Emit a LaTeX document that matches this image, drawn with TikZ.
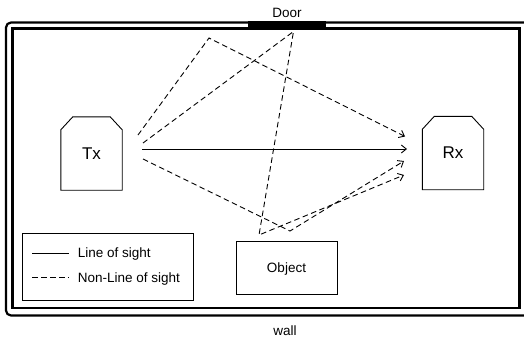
\documentclass[tikz,border=0pt]{standalone}
\usepackage{fontspec}
\setmainfont{Liberation Sans}
\usetikzlibrary{arrows.meta,calc}
\begin{document}
\begin{tikzpicture}[x=1pt,y=-1pt,
  thinline/.style={line width=0.9pt},
  nlos/.style={thinline, dash pattern=on 5.5pt off 3.5pt},
  tip/.style={-{Straight Barb[length=5pt,width=8pt,line width=0.9pt]}},
  lbl/.style={font=\fontsize{13.5}{16}\selectfont, inner sep=0pt},
  big/.style={font=\fontsize{17}{20}\selectfont, inner sep=0pt},
  device/.style={big, minimum width=61pt, minimum height=73pt, inner sep=0pt},
  boxed/.style={draw, thinline}
]
\useasboundingbox (0,0) rectangle (524,340);
\clip (0,0) rectangle (524,340);

% walls
\draw[line width=2.2pt, rounded corners=5pt] (6,22.5) rectangle (532,315.5);
\draw[line width=2.8pt] (12.5,28.5) rectangle (519.5,308);
% door
\fill (248,21) rectangle (326,30);
\node[lbl, anchor=base] (doorlbl) at (287,17.3) {Door};
\node[lbl, anchor=base] (walllbl) at (285,335) {wall};

% devices
\node[device] (tx) at (91.5,153.5) {Tx};
\node[device] (rx) at (453,153) {Rx};
\foreach \d in {tx,rx}{
  \draw[thinline] (\d.south west) -- ([yshift=-13pt]\d.north west)
    -- ([xshift=12pt]\d.north west) -- ([xshift=-12pt]\d.north east)
    -- ([yshift=-13pt]\d.north east) -- (\d.south east) -- cycle;
}

% object
\node[boxed, lbl, text depth=0pt, minimum width=101pt, minimum height=53pt] (obj) at (286.5,267.5) {Object};

% legend
\node[boxed, minimum width=171pt, minimum height=67pt] (legend) at (107.5,266.5) {};
\coordinate (la) at (32,253);
\coordinate (lb) at (69,253);
\coordinate (lc) at (32,277);
\coordinate (ld) at (69,277);
\draw[thinline] (la) -- (lb);
\draw[nlos] (lc) -- (ld);
\node[lbl, anchor=base west] (loslbl) at (77.7,257.3) {Line of sight};
\node[lbl, anchor=base west] (nloslbl) at (77.7,282) {Non-Line of sight};

% ray points
\coordinate (t0) at (142,149);  \coordinate (e0) at (407,149);
\coordinate (t1) at (138,135);  \coordinate (r1) at (209,38);   \coordinate (e1) at (405,136.5);
\coordinate (t2) at (143,143);  \coordinate (d2) at (293.5,31.5); \coordinate (o2) at (259,235); \coordinate (e2) at (404,175);
\coordinate (t3) at (143,159);  \coordinate (o3) at (290,231);  \coordinate (e3) at (404,161);

% rays
\draw[thinline, tip] (t0) -- (e0);
\draw[nlos, tip] (t1) -- (r1) -- (e1);
\draw[nlos, tip] (t2) -- (d2) -- (o2) -- (e2);
\draw[nlos, tip] (t3) -- (o3) -- (e3);
\end{tikzpicture}
\end{document}
